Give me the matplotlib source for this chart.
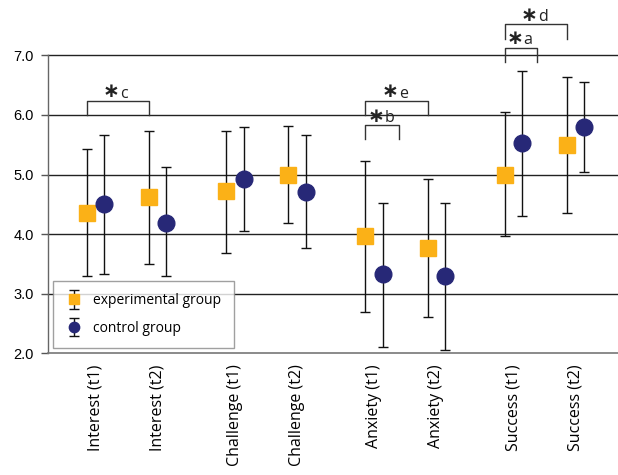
import matplotlib
matplotlib.use('Agg')
import matplotlib.pyplot as plt
from matplotlib.legend_handler import HandlerErrorbar
import numpy as np

categories = ['Interest (t1)', 'Interest (t2)', 'Challenge (t1)', 'Challenge (t2)',
              'Anxiety (t1)', 'Anxiety (t2)', 'Success (t1)', 'Success (t2)']
exp_mean = [4.36, 4.63, 4.72, 5.00, 3.96, 3.76, 4.99, 5.50]
exp_upper = [5.43, 5.73, 5.73, 5.82, 5.23, 4.92, 6.05, 6.64]
exp_lower = [3.29, 3.50, 3.69, 4.18, 2.70, 2.61, 3.97, 4.36]
ctrl_mean = [4.50, 4.19, 4.92, 4.71, 3.33, 3.29, 5.53, 5.80]
ctrl_upper = [5.66, 5.12, 5.80, 5.66, 4.53, 4.53, 6.74, 6.55]
ctrl_lower = [3.33, 3.29, 4.05, 3.77, 2.10, 2.06, 4.30, 5.04]
yticks = [2.0, 3.0, 4.0, 5.0, 6.0, 7.0]
ytick_labels = ['2.0', '3.0', '4.0', '5.0', '6.0', '7.0']

# significance brackets (x in category-position units)
sig_labels = ['c', 'e', 'b', 'a', 'd']
sig_left = [-0.14, 4.34, 4.34, 6.58, 6.58]
sig_right = [0.86, 5.34, 4.88, 7.10, 7.58]
sig_top = [6.24, 6.24, 5.83, 7.13, 7.53]
sig_bottom = [6.0, 6.0, 5.59, 6.88, 7.28]

EXP_COLOR = '#FBB117'
CTRL_COLOR = '#272877'

# positions: pairs of categories grouped, larger gap between groups
idx = np.arange(len(categories))
pos = (idx // 2) * 2.24 + (idx % 2)
off = 0.14

fig = plt.figure(figsize=(6.18, 4.75), dpi=100)
ax = fig.add_axes([48/618, 1 - 353.3/475, 1 - 48/618, (353.3 - 55.3)/475])

em = np.array(exp_mean); cm = np.array(ctrl_mean)
exp_err = [em - np.array(exp_lower), np.array(exp_upper) - em]
ctrl_err = [cm - np.array(ctrl_lower), np.array(ctrl_upper) - cm]

ax.errorbar(pos - off, em, yerr=exp_err, fmt='s', color=EXP_COLOR, ecolor='#111111',
            elinewidth=1.0, capsize=3.6, capthick=1.0, markersize=11.5,
            markeredgecolor=EXP_COLOR, zorder=3, label='experimental group', clip_on=False)
ax.errorbar(pos + off, cm, yerr=ctrl_err, fmt='o', color=CTRL_COLOR, ecolor='#111111',
            elinewidth=1.0, capsize=3.6, capthick=1.0, markersize=12,
            markeredgecolor=CTRL_COLOR, zorder=3, label='control group', clip_on=False)

ax.set_xlim(-0.764, 8.40)
ax.set_ylim(2.0, 7.0)
ax.set_yticks(yticks)
ax.set_yticklabels(ytick_labels, fontfamily='Liberation Sans', fontsize=10.5)
ax.set_xticks(pos)
ax.set_xticklabels(categories, rotation=90, fontfamily='Open Sans', fontsize=11.5,
                   va='top', ha='center')
ax.tick_params(axis='x', length=0, pad=8)
ax.tick_params(axis='y', length=5, width=1, color='#555555', pad=5)

for s in ['top', 'right']:
    ax.spines[s].set_visible(False)
ax.spines['left'].set_color('#666666')
ax.spines['bottom'].set_color('#777777')
ax.spines['left'].set_linewidth(1)
ax.spines['bottom'].set_linewidth(1.2)

for y in yticks[1:]:
    ax.axhline(y, color='#222222', lw=1.0, zorder=1, clip_on=False)

for lab, l, r, t, b in zip(sig_labels, sig_left, sig_right, sig_top, sig_bottom):
    ax.plot([l, l, r, r], [b, t, t, b], color='#333333', lw=1.0, clip_on=False, zorder=2)
    mid = (l + r) / 2
    ax.annotate('\u2217', xy=(mid, t), xytext=(1.5, 6.2), textcoords='offset points',
                ha='right', va='center', fontsize=14.5, fontweight='bold',
                fontfamily='DejaVu Sans', color='#222222', annotation_clip=False)
    ax.annotate(lab, xy=(mid, t), xytext=(1.8, 2.2), textcoords='offset points',
                ha='left', va='baseline', fontsize=11.5, fontfamily='Open Sans',
                color='#222222', annotation_clip=False)

leg = ax.legend(loc='lower left', bbox_to_anchor=(0.0093, 0.0168), borderaxespad=0,
                frameon=True, fancybox=False, edgecolor='#888888', markerscale=0.62,
                prop={'family': 'Open Sans', 'size': 10}, handlelength=1.2,
                handletextpad=0.75, borderpad=0.9, labelspacing=0.9,
                handler_map={type(ax.containers[0]): HandlerErrorbar(xerr_size=0.5, yerr_size=0.66)})
leg.get_frame().set_linewidth(1.0)
leg.set_zorder(5)

fig.savefig('out.png', dpi=100)
